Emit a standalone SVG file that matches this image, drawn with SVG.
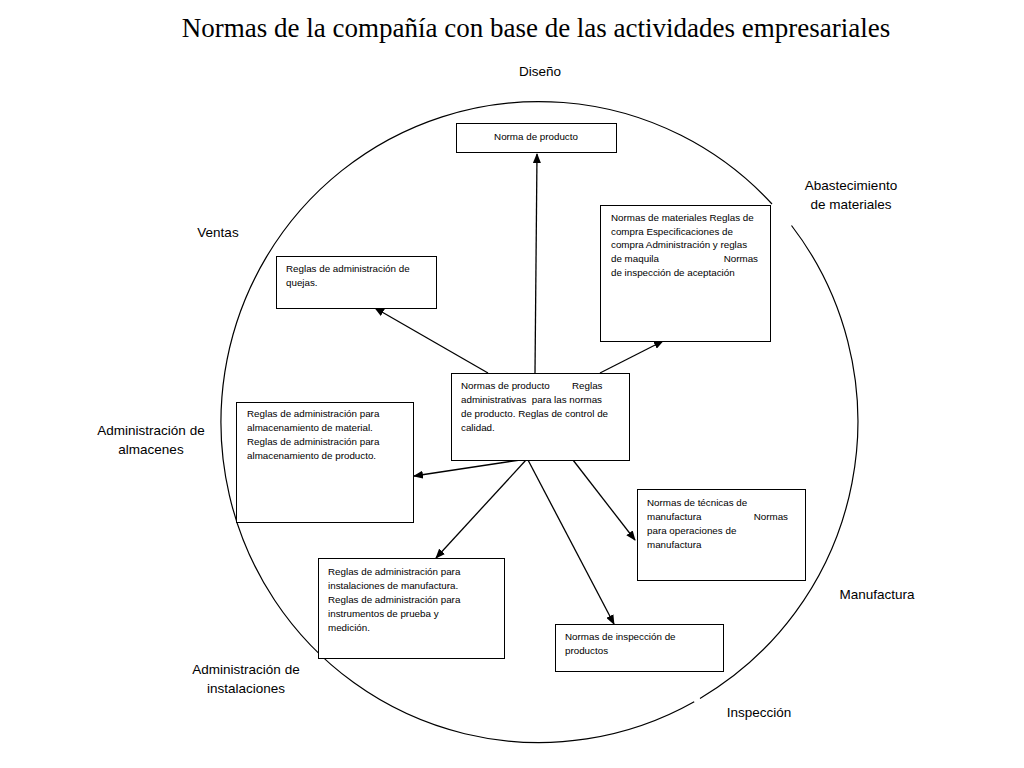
<svg xmlns="http://www.w3.org/2000/svg" width="1024" height="768" viewBox="0 0 1024 768">
<defs>
<marker id="ah" markerWidth="10" markerHeight="8" refX="9" refY="4" orient="auto" markerUnits="userSpaceOnUse">
<path d="M0,0 L10,4 L0,8 Z" fill="#000"/>
</marker>
<style>
.box{fill:#fff;stroke:#000;stroke-width:1}
.t{font-family:"Liberation Sans",Arial,sans-serif;font-size:9.8px;fill:#000}
.lbl{font-family:"Liberation Sans",Arial,sans-serif;font-size:13.5px;fill:#000;text-anchor:middle}
.ttl{font-family:"Liberation Serif","Times New Roman",serif;font-size:27px;fill:#000;text-anchor:middle}
.c{stroke:#000;stroke-width:1.3;fill:none;marker-end:url(#ah)}
.circ{stroke:#000;stroke-width:1.2;fill:none}
</style>
</defs>
<rect width="1024" height="768" fill="#fff"/>
<text class="ttl" x="536" y="37">Normas de la compañía con base de las actividades empresariales</text>
<g id="circle">
<path class="circ" d="M 791.5 225.5 A 318 320.5 0 0 1 700 698.4"/>
<path class="circ" d="M 694.2 701.8 A 318 320.5 0 1 1 772 204"/>
</g>
<g id="labels">
<text class="lbl" x="540" y="76">Diseño</text>
<text class="lbl" x="851" y="190">Abastecimiento</text>
<text class="lbl" x="851" y="209">de materiales</text>
<text class="lbl" x="218" y="237">Ventas</text>
<text class="lbl" x="151" y="435">Administración de</text>
<text class="lbl" x="151" y="454">almacenes</text>
<text class="lbl" x="877" y="599">Manufactura</text>
<text class="lbl" x="246" y="674">Administración de</text>
<text class="lbl" x="246" y="693">instalaciones</text>
<text class="lbl" x="759" y="717">Inspección</text>
</g>
<g id="connectors">
<line class="c" x1="535" y1="373" x2="537" y2="154"/>
<line class="c" x1="488" y1="373" x2="375" y2="308"/>
<line class="c" x1="600" y1="373" x2="663" y2="341"/>
<line class="c" x1="520" y1="460" x2="414" y2="476"/>
<line class="c" x1="526" y1="460" x2="436" y2="558"/>
<line class="c" x1="528" y1="460" x2="614" y2="624"/>
<line class="c" x1="573" y1="460" x2="635" y2="540"/>
</g>
<g id="n-producto">
<rect class="box" x="456.5" y="123.5" width="160" height="29"/>
<text class="t" x="536" y="140" text-anchor="middle">Norma de producto</text>
</g>
<g id="n-materiales">
<rect class="box" x="600.5" y="205.5" width="170" height="136"/>
<text class="t" x="611" y="221">Normas de materiales Reglas de</text>
<text class="t" x="611" y="234.7">compra Especificaciones de</text>
<text class="t" x="611" y="248.4">compra Administración y reglas</text>
<text class="t" x="611" y="262.1">de maquila</text>
<text class="t" x="758" y="262.1" text-anchor="end">Normas</text>
<text class="t" x="611" y="275.8">de inspección de aceptación</text>
</g>
<g id="n-quejas">
<rect class="box" x="276.5" y="256.5" width="160" height="52"/>
<text class="t" x="286" y="272">Reglas de administración de</text>
<text class="t" x="286" y="286">quejas.</text>
</g>
<g id="n-centro">
<rect class="box" x="451.5" y="373.5" width="178" height="87"/>
<text class="t" x="461" y="389">Normas de producto</text>
<text class="t" x="572" y="389">Reglas</text>
<text class="t" x="461" y="403" xml:space="preserve">administrativas  para las normas</text>
<text class="t" x="461" y="417">de producto. Reglas de control de</text>
<text class="t" x="461" y="431">calidad.</text>
</g>
<g id="n-almacenes">
<rect class="box" x="236.5" y="402.5" width="177" height="120"/>
<text class="t" x="247" y="417">Reglas de administración para</text>
<text class="t" x="247" y="431">almacenamiento de material.</text>
<text class="t" x="247" y="445">Reglas de administración para</text>
<text class="t" x="247" y="459">almacenamiento de producto.</text>
</g>
<g id="n-manufactura">
<rect class="box" x="637.5" y="489.5" width="168" height="91"/>
<text class="t" x="647" y="506">Normas de técnicas de</text>
<text class="t" x="647" y="520">manufactura</text>
<text class="t" x="788" y="520" text-anchor="end">Normas</text>
<text class="t" x="647" y="534">para operaciones de</text>
<text class="t" x="647" y="548">manufactura</text>
</g>
<g id="n-instalaciones">
<rect class="box" x="318.5" y="558.5" width="186" height="100"/>
<text class="t" x="328" y="575">Reglas de administración para</text>
<text class="t" x="328" y="589">instalaciones de manufactura.</text>
<text class="t" x="328" y="603">Reglas de administración para</text>
<text class="t" x="328" y="617">instrumentos de prueba y</text>
<text class="t" x="328" y="631">medición.</text>
</g>
<g id="n-inspeccion">
<rect class="box" x="555.5" y="624.5" width="168" height="47"/>
<text class="t" x="565" y="640">Normas de inspección de</text>
<text class="t" x="565" y="654">productos</text>
</g>
</svg>
